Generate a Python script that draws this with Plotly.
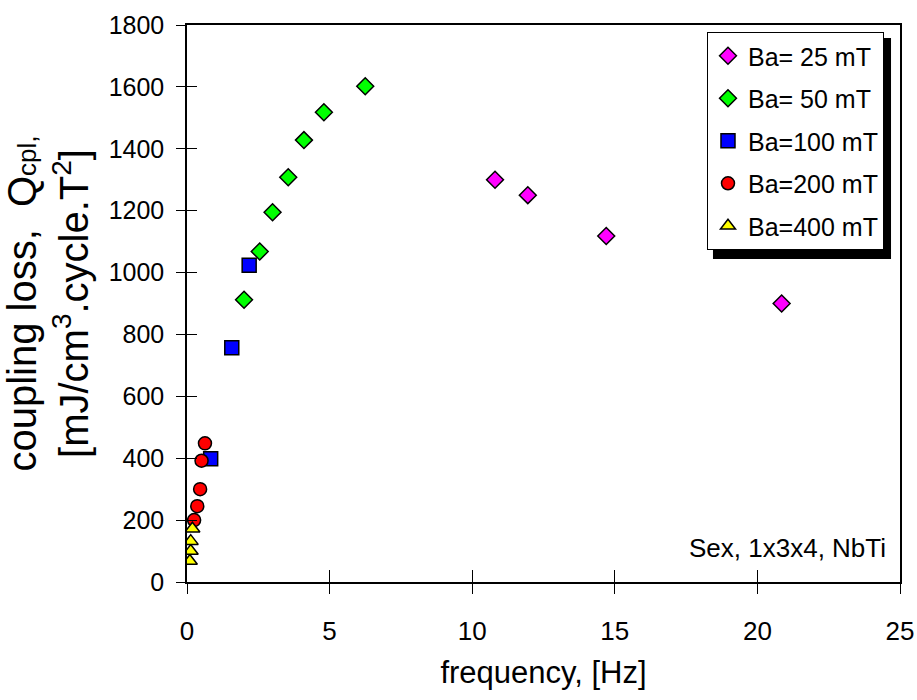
import plotly.graph_objects as go

# Data (frequency [Hz], coupling loss)
f25 = [10.8, 11.95, 14.7, 20.85]
q25 = [1300, 1250, 1118, 900]
f50 = [2.0, 2.55, 3.0, 3.55, 4.1, 4.8, 6.25]
q50 = [912, 1068, 1195, 1308, 1428, 1518, 1602]
f100 = [0.83, 1.57, 2.18]
q100 = [398, 757, 1024]
f200 = [0.25, 0.36, 0.46, 0.51, 0.63]
q200 = [200, 245, 300, 392, 448]
f400 = [0.1, 0.13, 0.13, 0.19]
q400 = [68, 100, 132, 172]

names = ["Ba= 25 mT", "Ba= 50 mT", "Ba=100 mT", "Ba=200 mT", "Ba=400 mT"]
xticks = [0, 5, 10, 15, 20, 25]
yticks = [0, 200, 400, 600, 800, 1000, 1200, 1400, 1600, 1800]

FONT = "Liberation Sans, Arial, sans-serif"

fig = go.Figure()
series = [
    (f25, q25, "diamond", "#FF00FF", 13),
    (f50, q50, "diamond", "#00FF00", 13),
    (f100, q100, "square", "#0000FF", 14),
    (f200, q200, "circle", "#FF0000", 13),
    (f400, q400, "triangle-up", "#FFFF00", 13),
]
for i, (x, y, sym, col, sz) in enumerate(series):
    fig.add_trace(go.Scatter(
        x=x, y=y, mode="markers", name=names[i], legendgroup=str(i),
        marker=dict(symbol=sym, color=col, size=sz,
                    line=dict(color="black", width=1.5)),
    ))

# overlay axes for inner tick halves
fig.add_trace(go.Scatter(x=[None], y=[None], xaxis="x2", yaxis="y2", showlegend=False))

axis_common = dict(showgrid=False, zeroline=False, showline=True, linecolor="black",
                   linewidth=1.5, ticks="outside", tickcolor="black", tickwidth=1,
                   automargin=False)

fig.update_layout(
    width=917, height=700,
    margin=dict(l=187, r=17, t=25, b=118),
    paper_bgcolor="white", plot_bgcolor="white",
    xaxis=dict(range=[0, 25], tickvals=xticks, mirror=True, ticklen=10,
               ticklabelstandoff=15,
               tickfont=dict(family=FONT, size=26, color="black"),
               title=dict(text="frequency, [Hz]", font=dict(family=FONT, size=31, color="black"),
                          standoff=16),
               **axis_common),
    yaxis=dict(range=[0, 1800], tickvals=yticks, mirror=True, ticklen=9,
               ticklabelstandoff=7,
               tickfont=dict(family=FONT, size=25, color="black"),
               title=dict(text="coupling loss,&nbsp;&nbsp;Q<span style='font-size:26px'>cpl,</span><br>[mJ/cm<sup>3</sup>.cycle.T<sup>2</sup>]",
                          font=dict(family=FONT, size=40, color="black"), standoff=8),
               **axis_common),
    xaxis2=dict(range=[0, 25], tickvals=xticks, overlaying="x", showticklabels=False,
                showgrid=False, zeroline=False, ticks="inside", ticklen=12,
                tickcolor="black", tickwidth=1),
    yaxis2=dict(range=[0, 1800], tickvals=yticks, overlaying="y", showticklabels=False,
                showgrid=False, zeroline=False, ticks="inside", ticklen=10,
                tickcolor="black", tickwidth=1),
    legend=dict(x=0.7293, y=0.9874, xanchor="left", yanchor="top",
                bgcolor="white", bordercolor="black", borderwidth=1,
                font=dict(family=FONT, size=25, color="black"),
                tracegroupgap=7, itemwidth=30),
    showlegend=True,
    annotations=[dict(text="Sex, 1x3x4, NbTi", x=0.9832, y=0.0619, xref="paper", yref="paper",
                      xanchor="right", yanchor="middle", showarrow=False,
                      font=dict(family=FONT, size=26, color="black"))],
    shapes=[dict(type="rect", xref="paper", yref="paper", layer="below",
                 x0=0.7377, x1=0.9874, y0=0.5799, y1=0.9767,
                 fillcolor="black", line=dict(width=0))],
)

fig.write_html("out.html")
